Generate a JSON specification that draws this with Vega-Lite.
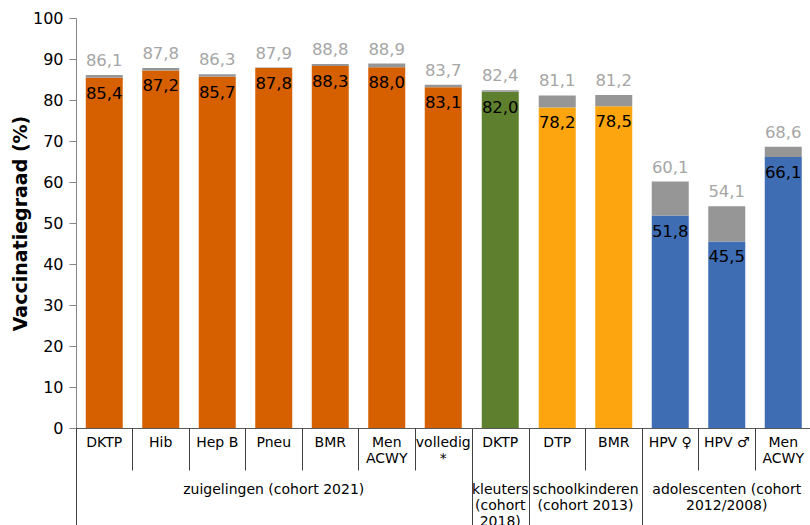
{
  "$schema": "https://vega.github.io/schema/vega-lite/v6.json",
  "padding": {"left": 11, "top": 10, "right": 0, "bottom": 0},
  "background": "white",
  "config": {
    "locale": {"number": {"decimal": ",", "thousands": ".", "grouping": [3], "currency": ["€", ""]}},
    "view": {"stroke": null},
    "font": "DejaVu Sans"
  },
  "data": {
    "values": [
      {"key": "01|DKTP", "group": "zuigelingen (cohort 2021)", "value": 85.4, "total": 86.1},
      {"key": "02|Hib", "group": "zuigelingen (cohort 2021)", "value": 87.2, "total": 87.8},
      {"key": "03|Hep B", "group": "zuigelingen (cohort 2021)", "value": 85.7, "total": 86.3},
      {"key": "04|Pneu", "group": "zuigelingen (cohort 2021)", "value": 87.8, "total": 87.9},
      {"key": "05|BMR", "group": "zuigelingen (cohort 2021)", "value": 88.3, "total": 88.8},
      {"key": "06|Men|ACWY", "group": "zuigelingen (cohort 2021)", "value": 88.0, "total": 88.9},
      {"key": "07|volledig|*", "group": "zuigelingen (cohort 2021)", "value": 83.1, "total": 83.7},
      {"key": "08|DKTP", "group": "kleuters|(cohort|2018)", "value": 82.0, "total": 82.4},
      {"key": "09|DTP", "group": "schoolkinderen|(cohort 2013)", "value": 78.2, "total": 81.1},
      {"key": "10|BMR", "group": "schoolkinderen|(cohort 2013)", "value": 78.5, "total": 81.2},
      {"key": "11|HPV ♀", "group": "adolescenten (cohort|2012/2008)", "value": 51.8, "total": 60.1},
      {"key": "12|HPV ♂", "group": "adolescenten (cohort|2012/2008)", "value": 45.5, "total": 54.1},
      {"key": "13|Men|ACWY", "group": "adolescenten (cohort|2012/2008)", "value": 66.1, "total": 68.6}
    ]
  },
  "spacing": 0,
  "bounds": "flush",
  "facet": {
    "column": {
      "field": "group",
      "type": "nominal",
      "sort": ["zuigelingen (cohort 2021)", "kleuters|(cohort|2018)", "schoolkinderen|(cohort 2013)", "adolescenten (cohort|2012/2008)"],
      "header": {
        "title": null,
        "labelOrient": "bottom",
        "labelExpr": "split(datum.value, '|')",
        "labelFont": "DejaVu Sans",
        "labelFontSize": 14,
        "labelColor": "#000000",
        "labelBaseline": "top",
        "labelLineHeight": 16,
        "labelPadding": 55
      }
    }
  },
  "resolve": {"scale": {"x": "independent"}},
  "spec": {
    "width": {"step": 56.5},
    "height": 410,
    "layer": [
      {
        "encoding": {
          "x": {
            "field": "key",
            "type": "nominal",
            "sort": "ascending",
            "scale": {"paddingInner": 0.345, "paddingOuter": 0.1725},
            "axis": {
              "orient": "bottom",
              "title": null,
              "labelAngle": 0,
              "labelExpr": "slice(split(datum.value, '|'), 1)",
              "labelFont": "DejaVu Sans",
              "labelFontSize": 14,
              "labelColor": "#000000",
              "labelLineHeight": 16,
              "labelBaseline": "top",
              "labelPadding": 7,
              "ticks": false,
              "tickSize": 0,
              "domainColor": "#595959",
              "labelOverlap": false,
              "labelBound": false
            }
          }
        },
        "layer": [
          {
            "mark": {"type": "bar"},
            "encoding": {
              "y": {
                "field": "value",
                "type": "quantitative",
                "scale": {"domain": [0, 100]},
                "axis": {
                  "title": "Vaccinatiegraad (%)",
                  "titleFont": "DejaVu Sans",
                  "titleFontSize": 19,
                  "titleFontWeight": "bold",
                  "titleColor": "#000000",
                  "titlePadding": 2,
                  "labelFont": "DejaVu Sans",
                  "labelFontSize": 16,
                  "labelColor": "#000000",
                  "labelPadding": 6,
                  "tickSize": 7,
                  "tickColor": "#868686",
                  "domainColor": "#868686",
                  "grid": false,
                  "values": [0, 10, 20, 30, 40, 50, 60, 70, 80, 90, 100]
                }
              },
              "color": {
                "field": "group",
                "type": "nominal",
                "scale": {
                  "domain": ["zuigelingen (cohort 2021)", "kleuters|(cohort|2018)", "schoolkinderen|(cohort 2013)", "adolescenten (cohort|2012/2008)"],
                  "range": ["#D65F00", "#5E7F2E", "#FDA50F", "#3F6DB3"]
                },
                "legend": null
              }
            }
          },
          {
            "mark": {"type": "bar", "color": "#969696"},
            "encoding": {
              "y": {"field": "value", "type": "quantitative"},
              "y2": {"field": "total"}
            }
          },
          {
            "mark": {"type": "text", "baseline": "alphabetic", "dy": -9, "fontSize": 16.5, "color": "#A6A6A6", "font": "DejaVu Sans"},
            "encoding": {
              "y": {"field": "total", "type": "quantitative"},
              "text": {"field": "total", "type": "quantitative", "format": ".1f"}
            }
          },
          {
            "mark": {"type": "text", "baseline": "alphabetic", "dy": 21, "fontSize": 16.5, "color": "#000000", "font": "DejaVu Sans"},
            "encoding": {
              "y": {"field": "value", "type": "quantitative"},
              "text": {"field": "value", "type": "quantitative", "format": ".1f"}
            }
          }
        ]
      },
      {
        "mark": {"type": "bar", "opacity": 0},
        "encoding": {
          "x": {
            "field": "key",
            "type": "nominal",
            "sort": "ascending",
            "axis": {
              "orient": "bottom",
              "title": null,
              "labels": false,
              "domain": false,
              "bandPosition": 0,
              "tickOffset": -9.75,
              "tickSize": 42,
              "tickColor": "#404040"
            }
          },
          "y": {"field": "value", "type": "quantitative"}
        }
      },
      {
        "mark": {"type": "bar", "opacity": 0},
        "encoding": {
          "x": {
            "field": "key",
            "type": "nominal",
            "sort": "ascending",
            "axis": {
              "orient": "bottom",
              "title": null,
              "labels": false,
              "domain": false,
              "bandPosition": 0,
              "tickOffset": -9.75,
              "tickSize": 97,
              "tickColor": "#404040",
              "values": ["01|DKTP", "08|DKTP", "09|DTP", "11|HPV ♀"]
            }
          },
          "y": {"field": "value", "type": "quantitative"}
        }
      }
    ],
    "resolve": {"axis": {"x": "independent"}}
  }
}
